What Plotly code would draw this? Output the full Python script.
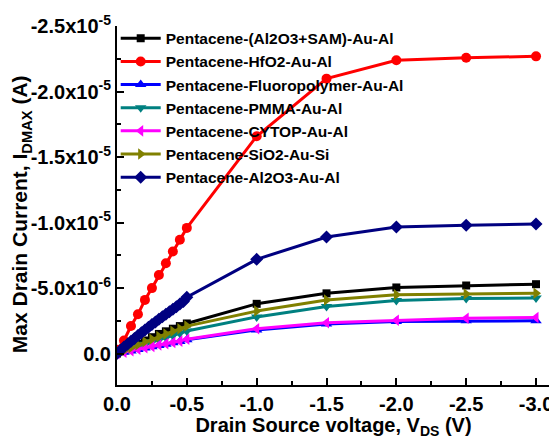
import plotly.graph_objects as go

# ---- data (current in units of 1e-6 A) ----
v_fine = [0.0, -0.05, -0.1, -0.15, -0.2, -0.25, -0.3, -0.35, -0.4, -0.45, -0.5]
v_navy_fine = [0.0, -0.025, -0.05, -0.075, -0.1, -0.125, -0.15, -0.175, -0.2, -0.225,
               -0.25, -0.275, -0.3, -0.325, -0.35, -0.375, -0.4, -0.425, -0.45, -0.475, -0.5]
v_coarse = [-1.0, -1.5, -2.0, -2.5, -3.0]

sam_fine = [0, -0.25, -0.5, -0.75, -1.0, -1.25, -1.5, -1.7, -1.9, -2.1, -2.3]
sam_coarse = [-3.8, -4.6, -5.05, -5.2, -5.3]

hfo2_fine = [-0.3, -1.0, -2.1, -3.0, -4.1, -5.0, -6.0, -6.9, -7.8, -8.7, -9.6]
hfo2_coarse = [-16.6, -21.0, -22.4, -22.6, -22.7]

fluoro_fine = [0, -0.1, -0.2, -0.31, -0.42, -0.52, -0.62, -0.72, -0.82, -0.92, -1.05]
fluoro_coarse = [-1.8, -2.25, -2.45, -2.5, -2.5]

pmma_fine = [0, -0.18, -0.36, -0.55, -0.72, -0.9, -1.06, -1.22, -1.38, -1.55, -1.72]
pmma_coarse = [-2.8, -3.6, -4.05, -4.2, -4.25]

cytop_fine = [0, -0.1, -0.22, -0.33, -0.45, -0.55, -0.65, -0.75, -0.85, -0.95, -1.1]
cytop_coarse = [-1.9, -2.35, -2.55, -2.7, -2.75]

sio2_fine = [0, -0.22, -0.45, -0.67, -0.9, -1.1, -1.3, -1.5, -1.7, -1.9, -2.1]
sio2_coarse = [-3.25, -4.1, -4.5, -4.55, -4.6]

al2o3_fine = [0, -0.25, -0.5, -0.72, -0.95, -1.15, -1.38, -1.6, -1.8, -2.02, -2.22,
              -2.42, -2.62, -2.82, -3.0, -3.2, -3.38, -3.58, -3.78, -3.98, -4.3]
al2o3_coarse = [-7.2, -8.9, -9.67, -9.8, -9.9]

names = ["Pentacene-(Al2O3+SAM)-Au-Al", "Pentacene-HfO2-Au-Al", "Pentacene-Fluoropolymer-Au-Al",
         "Pentacene-PMMA-Au-Al", "Pentacene-CYTOP-Au-Al", "Pentacene-SiO2-Au-Si", "Pentacene-Al2O3-Au-Al"]

y_tickvals = [0, -5e-6, -1e-5, -1.5e-5, -2e-5, -2.5e-5]
y_ticktext = ["0.0", "-5.0x10<sup>-6</sup>", "-1.0x10<sup>-5</sup>", "-1.5x10<sup>-5</sup>",
              "-2.0x10<sup>-5</sup>", "-2.5x10<sup>-5</sup>"]
x_tickvals = [0, -0.5, -1.0, -1.5, -2.0, -2.5, -3.0]
x_ticktext = ["0.0", "-0.5", "-1.0", "-1.5", "-2.0", "-2.5", "-3.0"]

series = [
    (names[0], v_fine, sam_fine, sam_coarse, "#000000", "square", 8),
    (names[1], v_fine, hfo2_fine, hfo2_coarse, "#FF0000", "circle", 10),
    (names[2], v_fine, fluoro_fine, fluoro_coarse, "#0000FF", "triangle-up", 10),
    (names[3], v_fine, pmma_fine, pmma_coarse, "#008080", "triangle-down", 10),
    (names[4], v_fine, cytop_fine, cytop_coarse, "#FF00FF", "triangle-left", 10),
    (names[5], v_fine, sio2_fine, sio2_coarse, "#808000", "triangle-right", 10),
    (names[6], v_navy_fine, al2o3_fine, al2o3_coarse, "#000080", "diamond", 10),
]

fig = go.Figure()
for name, vf, fine, coarse, color, sym, size in series:
    xs = vf + v_coarse
    ys = [val * 1e-6 for val in fine + coarse]
    fig.add_trace(go.Scatter(
        x=xs, y=ys, name=name, mode="lines+markers", legendgroup=name,
        line=dict(color=color, width=3),
        marker=dict(symbol=sym, size=size, color=color, line=dict(width=0)),
    ))

font_family = "Liberation Sans, Arial, sans-serif"
# page body adds an 8px offset, so the figure is sized 8px smaller than the window
fig.update_layout(
    width=549, height=431,
    margin=dict(l=109, r=4, t=14, b=54),
    paper_bgcolor="white", plot_bgcolor="white",
    font=dict(family=font_family, color="black"),
    showlegend=True,
    legend=dict(x=-0.003, y=1.012, xanchor="left", yanchor="top",
                bgcolor="rgba(0,0,0,0)", font=dict(size=15.5, family=font_family, weight="bold"),
                tracegroupgap=0, itemwidth=40),
    xaxis=dict(
        range=[0, -3.1], showgrid=False, zeroline=False,
        showline=True, linecolor="black", linewidth=2,
        ticks="inside", ticklen=7, tickwidth=2, tickcolor="black",
        tickvals=x_tickvals, ticktext=x_ticktext, ticklabeloverflow="allow",
        tickfont=dict(size=20, family=font_family, weight="bold"),
        minor=dict(ticks="inside", ticklen=4, tickwidth=2, tickcolor="black", dtick=0.25),
        title=dict(text="Drain Source voltage, V<sub>DS</sub> (V)", standoff=0,
                   font=dict(size=20, family=font_family, weight="bold")),
    ),
    yaxis=dict(
        range=[2.4e-6, -2.502e-5], showgrid=False, zeroline=False,
        showline=True, linecolor="black", linewidth=2,
        ticks="inside", ticklen=7, tickwidth=2, tickcolor="black",
        tickvals=y_tickvals, ticktext=y_ticktext, ticklabeloverflow="allow",
        tickfont=dict(size=20, family=font_family, weight="bold"),
        minor=dict(ticks="inside", ticklen=4, tickwidth=2, tickcolor="black",
                   tickvals=[-2.5e-6, -7.5e-6, -1.25e-5, -1.75e-5, -2.25e-5]),
    ),
    annotations=[dict(
        text="Max Drain Current, I<sub>DMAX</sub> (A)", textangle=-90,
        xref="paper", yref="paper", x=-0.22, y=0.475, xanchor="center", yanchor="middle",
        showarrow=False, font=dict(size=21, family=font_family, weight="bold"),
    )],
)

fig.write_html("out.html")
